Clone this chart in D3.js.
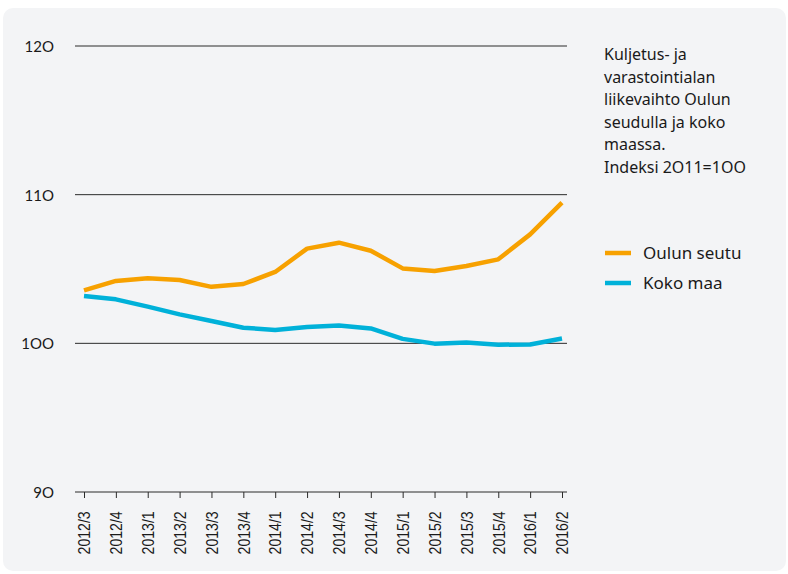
<!DOCTYPE html>
<html>
<head>
<meta charset="utf-8">
<script src="https://cdn.jsdelivr.net/npm/d3@7"></script>
<style>
  body { margin: 0; background: #fff; }
  text { font-family: "Noto Sans", "Lato", sans-serif; fill: #1a1a1a; }
  .ylab text { font-family: "Lato", sans-serif; }
  .xlab text { font-family: "Liberation Sans", "Arial", sans-serif; }
</style>
</head>
<body>
<div id="canvas"></div>
<script>
const quarters = ["2012/3", "2012/4", "2013/1", "2013/2", "2013/3", "2013/4", "2014/1", "2014/2",
  "2014/3", "2014/4", "2015/1", "2015/2", "2015/3", "2015/4", "2016/1", "2016/2"];
const oulu = [103.56, 104.2, 104.37, 104.26, 103.8, 103.99, 104.8, 106.37,
  106.77, 106.23, 105.04, 104.86, 105.2, 105.65, 107.33, 109.46];
const koko = [103.18, 102.96, 102.47, 101.95, 101.5, 101.05, 100.9, 101.1,
  101.2, 101.0, 100.3, 99.98, 100.05, 99.91, 99.92, 100.32];
const yTicks = [90, 100, 110, 120];
const seriesNames = ["Oulun seutu", "Koko maa"];
const colors = ["#f7a100", "#00b1d9"];
const titleLines = ["Kuljetus- ja", "varastointialan", "liikevaihto Oulun", "seudulla ja koko", "maassa.", "Indeksi 2O11=1OO"];

const dims = { width: 788, height: 574 };
const plot = { left: 75, right: 567, top: 46, bottom: 492 };

const svg = d3.select("#canvas").append("svg")
  .attr("width", dims.width)
  .attr("height", dims.height);

// background panel
svg.append("rect")
  .attr("x", 3).attr("y", 8)
  .attr("width", 783).attr("height", 563)
  .attr("rx", 10)
  .attr("fill", "#f3f4f6");

const yScale = d3.scaleLinear().domain([90, 120]).range([plot.bottom, plot.top]);
const xScale = d3.scalePoint().domain(quarters).range([84, 562]);

// gridlines
svg.append("g").selectAll("line")
  .data(yTicks.filter(d => d !== 90))
  .join("line")
  .attr("x1", plot.left).attr("x2", plot.right)
  .attr("y1", d => yScale(d)).attr("y2", d => yScale(d))
  .attr("stroke", "#2b2b2b").attr("stroke-width", 1);

// y labels (font uses letter O for zero)
svg.append("g").attr("class", "ylab").selectAll("text")
  .data(yTicks)
  .join("text")
  .attr("x", 54)
  .attr("y", d => yScale(d) + 6)
  .attr("text-anchor", "end")
  .attr("font-size", 15)
  .text(d => String(d).replace(/0/g, "O"));

// x axis
const xAxisGroup = svg.append("g")
  .attr("class", "xlab")
  .attr("transform", `translate(0,${plot.bottom})`);
xAxisGroup.call(d3.axisBottom(xScale).tickSize(6).tickSizeOuter(0));
xAxisGroup.select(".domain").remove();
xAxisGroup.append("line")
  .attr("x1", plot.left).attr("x2", plot.right)
  .attr("stroke", "#2b2b2b");
xAxisGroup.selectAll(".tick line").attr("stroke", "#2b2b2b");
xAxisGroup.selectAll(".tick text")
  .attr("transform", "rotate(-90) scale(0.88,1)")
  .attr("text-anchor", "end")
  .attr("x", -22).attr("y", 0).attr("dy", "0.36em")
  .attr("font-size", 16)
  .attr("fill", "#1a1a1a");

// lines
const lineGen = d3.line()
  .x((d, i) => xScale(quarters[i]))
  .y(d => yScale(d));

[oulu, koko].forEach((s, k) => {
  svg.append("path")
    .datum(s)
    .attr("d", lineGen)
    .attr("fill", "none")
    .attr("stroke", colors[k])
    .attr("stroke-width", 4.5)
    .attr("stroke-linejoin", "round");
});

// title
svg.append("g").selectAll("text")
  .data(titleLines)
  .join("text")
  .attr("x", 604)
  .attr("y", (d, i) => 60 + i * 22.5)
  .attr("font-size", 16)
  .text(d => d);

// legend
const legend = svg.append("g").attr("transform", "translate(605,253)");
seriesNames.forEach((name, i) => {
  legend.append("line")
    .attr("x1", 0).attr("x2", 26)
    .attr("y1", i * 30).attr("y2", i * 30)
    .attr("stroke", colors[i]).attr("stroke-width", 4.5);
  legend.append("text")
    .attr("x", 38).attr("y", i * 30 + 6)
    .attr("font-size", 17)
    .text(name);
});
</script>
</body>
</html>
